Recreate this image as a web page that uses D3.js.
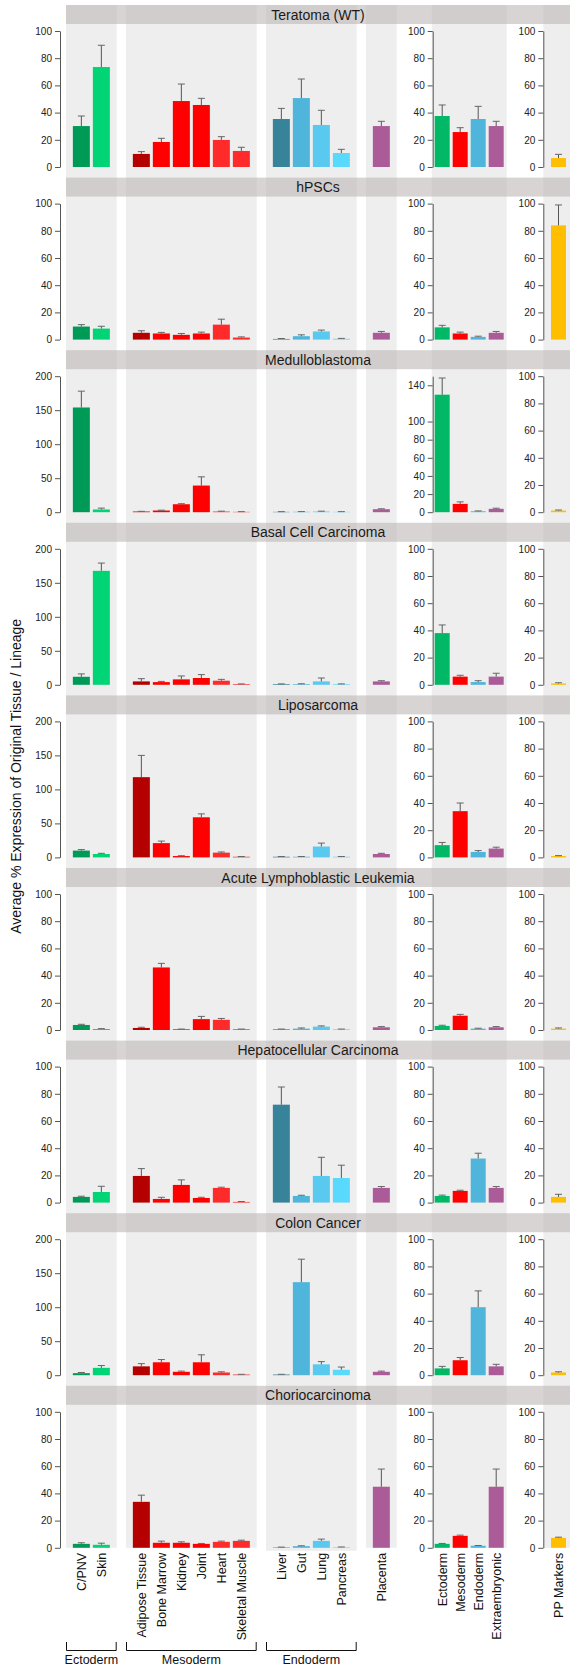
<!DOCTYPE html>
<html>
<head>
<meta charset="utf-8">
<script src="https://cdn.jsdelivr.net/npm/d3@7"></script>
<style>
  html, body { margin: 0; padding: 0; background: #fff; }
  svg { display: block; font-family: "Liberation Sans", Arial, Helvetica, sans-serif; }
</style>
</head>
<body>
<svg id="chart" width="570" height="1667"></svg>
<script>
// ---------------- DATA ----------------
const facets = ["Teratoma (WT)", "hPSCs", "Medulloblastoma", "Basal Cell Carcinoma", "Liposarcoma",
  "Acute Lymphoblastic Leukemia", "Hepatocellular Carcinoma", "Colon Cancer", "Choriocarcinoma"];

const ectodermCats = ["C/PNV", "Skin"];
const mesodermCats = ["Adipose Tissue", "Bone Marrow", "Kidney", "Joint", "Heart", "Skeletal Muscle"];
const endodermCats = ["Liver", "Gut", "Lung", "Pancreas"];
const placentaCats = ["Placenta"];
const lineageCats = ["Ectoderm", "Mesoderm", "Endoderm", "Extraembryonic"];
const ppCats = ["PP Markers"];

// tissue order: C/PNV, Skin, Adipose, Bone Marrow, Kidney, Joint, Heart, Skeletal Muscle, Liver, Gut, Lung, Pancreas, Placenta
const tissueValues = [
  [30.1, 73.5, 9.6, 18.4, 48.5, 45.6, 19.9, 11.8, 35.3, 50.7, 30.9, 10.3, 30.1],
  [9.6, 8.1, 5.0, 4.5, 3.5, 4.5, 11.0, 1.5, 0.5, 2.5, 6.0, 0.6, 5.0],
  [154, 4.0, 1.0, 2.5, 11.7, 39.2, 1.0, 0.5, 0.5, 0.6, 1.0, 0.5, 4.4],
  [11.8, 167.6, 5.0, 4.0, 8.0, 10.0, 6.0, 1.0, 1.0, 1.0, 5.0, 1.0, 5.0],
  [10.0, 5.0, 118, 21.0, 2.0, 59.0, 7.0, 1.0, 1.0, 1.0, 16.0, 1.0, 5.0],
  [3.7, 0.7, 1.5, 46.0, 0.5, 8.0, 7.5, 0.5, 0.5, 1.0, 2.5, 0.5, 2.0],
  [4.2, 7.8, 19.6, 2.7, 13.0, 3.4, 10.8, 0.5, 72.0, 4.9, 19.6, 18.1, 10.8],
  [3.0, 10.8, 13.0, 19.0, 5.0, 19.0, 4.0, 1.0, 1.0, 136.8, 16.0, 8.0, 5.0],
  [2.9, 2.2, 33.8, 3.7, 3.7, 2.9, 4.4, 5.1, 0.3, 1.2, 5.1, 0.4, 44.9]
];
const tissueErrors = [
  [7.4, 16.0, 1.7, 2.7, 12.5, 4.9, 2.4, 2.7, 7.8, 14.0, 10.8, 2.7, 3.5],
  [1.4, 1.7, 1.5, 0.8, 1.0, 1.0, 4.0, 0.5, 0.3, 1.0, 1.0, 0.3, 1.0],
  [24.0, 2.0, 0.3, 0.5, 0.8, 12.8, 0.5, 0.3, 0.3, 0.3, 0.5, 0.3, 0.6],
  [4.2, 11.4, 4.0, 1.0, 5.0, 5.0, 2.0, 0.3, 0.3, 0.5, 5.0, 0.3, 1.0],
  [1.5, 1.0, 32.0, 3.0, 0.5, 5.0, 1.0, 0.3, 0.3, 0.3, 5.0, 0.3, 1.0],
  [0.5, 0.3, 0.5, 3.0, 0.2, 2.0, 1.0, 0.2, 0.2, 0.5, 0.5, 0.2, 0.5],
  [0.5, 4.2, 5.4, 1.2, 3.7, 0.5, 0.5, 0.3, 13.0, 0.5, 13.7, 9.4, 1.0],
  [1.0, 3.4, 4.0, 4.0, 1.0, 11.0, 1.0, 0.3, 0.3, 33.8, 4.0, 4.0, 1.0],
  [0.8, 1.2, 4.9, 1.2, 0.7, 0.3, 0.5, 0.5, 0.2, 0.3, 1.3, 0.2, 13.0]
];
const lineageValues = [
  [37.5, 25.7, 35.3, 30.1],
  [9.0, 4.5, 2.0, 5.0],
  [129.6, 9.2, 1.0, 3.7],
  [38.0, 6.0, 2.0, 6.0],
  [9.0, 34.0, 4.0, 6.5],
  [3.0, 10.5, 1.0, 2.0],
  [4.9, 8.6, 32.4, 10.8],
  [5.0, 11.0, 50.0, 6.5],
  [2.9, 8.8, 1.5, 44.9]
];
const lineageErrors = [
  [8.1, 3.2, 9.3, 3.5],
  [1.5, 1.0, 0.5, 1.0],
  [18.4, 2.2, 0.4, 0.7],
  [6.0, 1.0, 1.0, 2.5],
  [2.0, 6.0, 1.0, 1.0],
  [0.5, 1.0, 0.3, 0.5],
  [0.6, 0.5, 3.9, 1.0],
  [1.5, 2.0, 12.0, 1.5],
  [0.3, 0.5, 0.2, 13.0]
];
const ppValues = [6.6, 84.0, 1.2, 1.0, 1.0, 1.0, 4.2, 2.0, 7.3];
const ppErrors = [2.7, 15.0, 0.4, 0.5, 0.3, 0.5, 1.9, 0.5, 0.5];

const tissueMax = [100, 100, 200, 200, 200, 100, 100, 200, 100];
const lineageMax = [100, 100, 150, 100, 100, 100, 100, 100, 100];
const ppMax = [100, 100, 100, 100, 100, 100, 100, 100, 100];
const ticks100 = [0, 20, 40, 60, 80, 100];
const ticks200 = [0, 50, 100, 150, 200];
const ticksMedLineage = [0, 20, 40, 60, 80, 100, 140];

const groupNames = ["Ectoderm", "Mesoderm", "Endoderm"];
const yTitle = "Average % Expression of Original Tissue / Lineage";

// ---------------- STYLE ----------------
const tissueColors = ["#009a57", "#00d474", "#b50000", "#ff0000", "#ff0000", "#ff0000", "#ff2b2b", "#ff2b2b",
  "#36839a", "#4fb5da", "#5ac9ef", "#5ad9ff", "#ab5b98"];
const lineageColors = ["#00b866", "#ff0000", "#4fb5da", "#ab5b98"];
const ppColor = "#ffbf00";

// ---------------- LAYOUT ----------------
const svg = d3.select("#chart");
const W = 570;
const zero0 = 167, facetStep = 172.6, plotH = 136, stripOff = 162, stripH = 19;
const lastZero = zero0 + facetStep * 8;
const topY = zero0 - stripOff;

const tissueCols = [
  { cats: ectodermCats, x0: 66, x1: 116.7, offset: 0 },
  { cats: mesodermCats, x0: 126, x1: 256.7, offset: 2 },
  { cats: endodermCats, x0: 266, x1: 356.7, offset: 8 },
  { cats: placentaCats, x0: 366, x1: 396.7, offset: 12 }
];
tissueCols.forEach(c => {
  c.x = d3.scaleBand().domain(c.cats).range([c.x0, c.x1]).paddingInner(0.15).paddingOuter(0.3425);
});
const lineageX = d3.scaleBand().domain(lineageCats).range([431.7, 506.7]).paddingInner(1/6).paddingOuter(1/6);
const ppX = d3.scaleBand().domain(ppCats).range([543.3, 573.7]).paddingInner(1/6).paddingOuter(0.4278);

// column backgrounds
const bgCols = [
  [66, 116.7, 0], [126, 256.7, 0], [266, 356.7, 3], [366, 396.7, 0], [431.7, 506.7, 0], [543.3, 573.7, 0]
];
svg.append("g").selectAll("rect").data(bgCols).join("rect")
  .attr("x", d => d[0]).attr("width", d => d[1] - d[0])
  .attr("y", topY).attr("height", d => lastZero + d[2] - topY)
  .attr("fill", "#eeeeee");

const axisColor = "#555";
function styleAxis(g) {
  g.select(".domain").attr("stroke", axisColor);
  g.selectAll(".tick line").attr("stroke", axisColor);
  g.selectAll(".tick text").attr("fill", "#222").style("font-size", "10px")
    .style("font-family", "'Liberation Sans', Arial, Helvetica, sans-serif");
}

function drawBars(g, xs, cats, vals, errs, colors, y) {
  cats.forEach((c, k) => {
    const v = vals[k], e = errs[k];
    const bx = xs(c), bw = xs.bandwidth();
    g.append("rect").attr("x", bx).attr("width", bw)
      .attr("y", y(v)).attr("height", y(0) - y(v)).attr("fill", colors[k]);
    const cx = bx + bw / 2;
    g.append("line").attr("x1", cx).attr("x2", cx).attr("y1", y(v)).attr("y2", y(v + e))
      .attr("stroke", "#555").attr("stroke-width", 1);
    g.append("line").attr("x1", cx - 3.5).attr("x2", cx + 3.5).attr("y1", y(v + e)).attr("y2", y(v + e))
      .attr("stroke", "#666").attr("stroke-width", 1);
  });
}

facets.forEach((name, i) => {
  const zero = zero0 + facetStep * i;
  const g = svg.append("g");

  // tissue
  const yT = d3.scaleLinear().domain([0, tissueMax[i]]).range([zero, zero - plotH]);
  tissueCols.forEach(col => {
    const vals = col.cats.map((c, k) => tissueValues[i][col.offset + k]);
    const errs = col.cats.map((c, k) => tissueErrors[i][col.offset + k]);
    const cols = col.cats.map((c, k) => tissueColors[col.offset + k]);
    drawBars(g, col.x, col.cats, vals, errs, cols, yT);
  });
  g.append("g").attr("transform", "translate(60,0)")
    .call(d3.axisLeft(yT).tickValues(tissueMax[i] === 200 ? ticks200 : ticks100).tickSize(5).tickSizeOuter(0).tickPadding(3))
    .call(styleAxis);

  // lineage
  const lMax = lineageMax[i];
  const yL = d3.scaleLinear().domain([0, lMax]).range([zero, zero - plotH]);
  drawBars(g, lineageX, lineageCats, lineageValues[i], lineageErrors[i], lineageColors, yL);
  g.append("g").attr("transform", "translate(432.7,0)")
    .call(d3.axisLeft(yL).tickValues(lMax === 150 ? ticksMedLineage : ticks100).tickSize(5).tickSizeOuter(0).tickPadding(3))
    .call(styleAxis);

  // PP
  const yP = d3.scaleLinear().domain([0, ppMax[i]]).range([zero, zero - plotH]);
  drawBars(g, ppX, ppCats, [ppValues[i]], [ppErrors[i]], [ppColor], yP);
  g.append("g").attr("transform", "translate(543.3,0)")
    .call(d3.axisLeft(yP).tickValues(ticks100).tickSize(5).tickSizeOuter(0).tickPadding(3))
    .call(styleAxis);

  // strip
  const st = zero - stripOff;
  svg.append("rect").attr("x", 66).attr("width", W - 66).attr("y", st).attr("height", stripH)
    .attr("fill", "rgb(190,183,183)").attr("fill-opacity", 0.6);
  svg.append("text").attr("x", (66 + W) / 2).attr("y", st + stripH / 2).attr("dy", "0.36em")
    .attr("text-anchor", "middle").style("font-size", "14px").attr("fill", "#1a1a1a").text(name);
});

// bottom category labels
const labG = svg.append("g").style("font-size", "12.5px").attr("fill", "#111");
function bottomLabels(xs, cats) {
  cats.forEach(c => {
    const cx = xs(c) + xs.bandwidth() / 2;
    labG.append("text").attr("transform", `translate(${cx},${lastZero + 5}) rotate(-90)`)
      .attr("text-anchor", "end").attr("dy", "0.36em").text(c);
  });
}
tissueCols.forEach(col => bottomLabels(col.x, col.cats));
bottomLabels(lineageX, lineageCats);
bottomLabels(ppX, ppCats);

// group brackets
const brG = svg.append("g");
tissueCols.slice(0, 3).forEach((col, k) => {
  brG.append("path")
    .attr("d", `M${col.x0 + 0.5},1642 V1650.5 H${col.x1 - 0.5} V1642`)
    .attr("fill", "none").attr("stroke", "#111").attr("stroke-width", 1);
  brG.append("text").attr("x", (col.x0 + col.x1) / 2).attr("y", 1664)
    .attr("text-anchor", "middle").style("font-size", "12.5px").attr("fill", "#111").text(groupNames[k]);
});

// y axis title
svg.append("text").attr("transform", `translate(16,${(topY + lastZero) / 2}) rotate(-90)`)
  .attr("text-anchor", "middle").attr("dy", "0.36em").style("font-size", "14px").attr("fill", "#111")
  .text(yTitle);
</script>
</body>
</html>
